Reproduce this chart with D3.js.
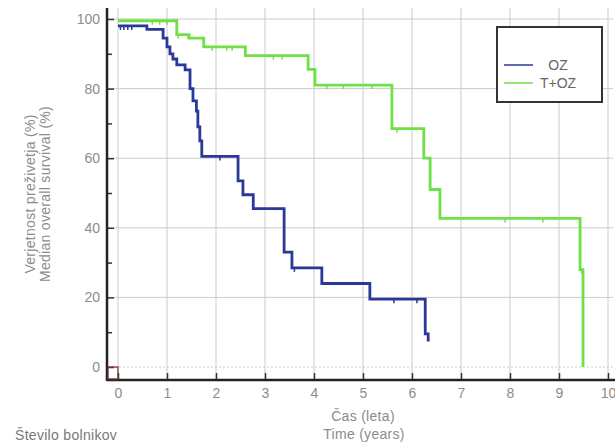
<!DOCTYPE html>
<html>
<head>
<meta charset="utf-8">
<script src="https://cdn.jsdelivr.net/npm/d3@7"></script>
<style>
  body { margin: 0; background: #fff; }
  text { font-family: "Liberation Sans", Arial, sans-serif; }
</style>
</head>
<body>
<div id="chart"></div>
<script>
// Kaplan-Meier steps (time in years, survival in %)
const ozTime = [0, 0.59, 0.92, 1.0, 1.06, 1.12, 1.2, 1.37, 1.47, 1.53, 1.6, 1.63, 1.67, 1.71, 2.45, 2.55, 2.76, 3.39, 3.55, 4.16, 5.14, 6.27, 6.33];
const ozSurv = [98, 97, 94.5, 92, 90, 88.5, 86.8, 85.4, 80, 76.5, 73.5, 69, 65, 60.5, 53.5, 49.5, 45.5, 33, 28.5, 24, 19.5, 9.5, 7.7];
const ozEnd = 6.36;
const ozCensor = [0.05, 0.12, 0.2, 0.28, 2.08, 3.6, 5.63, 6.1];

const tozTime = [0, 1.2, 1.45, 1.75, 2.6, 3.88, 4.02, 5.59, 6.24, 6.37, 6.57, 9.43, 9.49];
const tozSurv = [99.5, 95.5, 94.5, 92, 89.5, 85.5, 81, 68.5, 60, 51, 42.7, 28, 0];
const tozEnd = 9.49;
const tozCensor = [0.7, 0.85, 1.0, 1.23, 1.43, 1.92, 2.22, 2.33, 3.17, 3.35, 4.26, 4.6, 5.18, 5.69, 7.9, 8.67, 9.46];

const xTicks = [0, 1, 2, 3, 4, 5, 6, 7, 8, 9, 10];
const yTicks = [0, 20, 40, 60, 80, 100];
const yMinor = [10, 30, 50, 70, 90];
const seriesNames = ["OZ", "T+OZ"];
const seriesColors = ["#2a3899", "#6fe046"];

const W = 615, H = 444;
const plotLeft = 107, plotBottom = 380, plotTop = 8, plotRight = 613;

const svg = d3.select("#chart").append("svg")
  .attr("width", W).attr("height", H);

const x = d3.scaleLinear().domain([0, 10]).range([118, 608]);
const y = d3.scaleLinear().domain([0, 100]).range([367, 19]);

// grid
svg.append("g").selectAll("line").data(xTicks).join("line")
  .attr("x1", d => x(d)).attr("x2", d => x(d))
  .attr("y1", plotTop).attr("y2", plotBottom)
  .attr("stroke", "#cbcbcb").attr("stroke-width", 1);
svg.append("g").selectAll("line").data(yTicks).join("line")
  .attr("x1", plotLeft).attr("x2", plotRight)
  .attr("y1", d => y(d)).attr("y2", d => y(d))
  .attr("stroke", "#cbcbcb").attr("stroke-width", 1)
  .attr("stroke-dasharray", d => d === 0 ? "2,2" : null);

// axes with inward ticks
const gx = svg.append("g").attr("transform", "translate(0," + plotBottom + ")")
  .call(d3.axisBottom(x).tickValues(xTicks).tickSize(-7).tickPadding(8));
const gy = svg.append("g").attr("transform", "translate(" + plotLeft + ",0)")
  .call(d3.axisLeft(y).tickValues(yTicks).tickSize(-7).tickPadding(7));
svg.append("g").attr("transform", "translate(" + plotLeft + ",0)")
  .call(d3.axisLeft(y).tickValues(yMinor).tickSize(-5).tickFormat(""))
  .call(g => g.select(".domain").remove());
[gx, gy].forEach(g => {
  g.select(".domain").remove();
  g.selectAll(".tick text").attr("fill", "#8c8c8c").style("font-size", "14px");
});
svg.selectAll(".tick line").attr("stroke", "#333").attr("stroke-width", 1.5);

svg.append("line").attr("x1", plotLeft).attr("x2", plotLeft).attr("y1", plotTop).attr("y2", plotBottom + 1)
  .attr("stroke", "#222").attr("stroke-width", 2.5);
svg.append("line").attr("x1", plotLeft).attr("x2", W).attr("y1", plotBottom).attr("y2", plotBottom)
  .attr("stroke", "#222").attr("stroke-width", 2.5);

// little marker at the origin
svg.append("rect").attr("x", plotLeft + 1).attr("y", y(0)).attr("width", x(0) - plotLeft - 1).attr("height", plotBottom - y(0) - 1)
  .attr("fill", "none").attr("stroke", "#7a3030").attr("stroke-width", 1.2);

// survival curves
function stepPoints(ts, vs, end) {
  const pts = ts.map((t, i) => [t, vs[i]]);
  pts.push([end, vs[vs.length - 1]]);
  return pts;
}
const line = d3.line().x(d => x(d[0])).y(d => y(d[1])).curve(d3.curveStepAfter);

function levelAt(ts, vs, t) {
  let v = vs[0];
  for (let i = 0; i < ts.length; i++) if (ts[i] <= t) v = vs[i];
  return v;
}

const series = [
  { t: ozTime, v: ozSurv, end: ozEnd, c: ozCensor },
  { t: tozTime, v: tozSurv, end: tozEnd, c: tozCensor }
];
// draw green first so blue stays on top like the reference
[1, 0].forEach(i => {
  const s = series[i];
  svg.append("path").datum(stepPoints(s.t, s.v, s.end))
    .attr("d", line).attr("fill", "none")
    .attr("stroke", seriesColors[i]).attr("stroke-width", 2.8);
  svg.append("g").selectAll("line").data(s.c).join("line")
    .attr("x1", d => x(d)).attr("x2", d => x(d))
    .attr("y1", d => y(levelAt(s.t, s.v, d)))
    .attr("y2", d => y(levelAt(s.t, s.v, d)) + 4)
    .attr("stroke", seriesColors[i]).attr("stroke-width", 1.5);
});

// legend
const lg = svg.append("g");
lg.append("rect").attr("x", 497).attr("y", 27).attr("width", 105).attr("height", 75)
  .attr("fill", "#fff").attr("stroke", "#333").attr("stroke-width", 2);
seriesNames.forEach((n, i) => {
  const ly = 65 + i * 18;
  lg.append("line").attr("x1", 504).attr("x2", 533).attr("y1", ly).attr("y2", ly)
    .attr("stroke", seriesColors[i]).attr("stroke-width", 1.5);
  lg.append("text").attr("x", 558).attr("y", ly + 5).attr("text-anchor", "middle")
    .attr("fill", "#666").style("font-size", "14px").text(n);
});

// titles
const titleColor = "#8c8c8c";
const titleStyle = t => t.attr("fill", titleColor).style("font-size", "14px").style("letter-spacing", "0.3px");
svg.append("text").attr("transform", "translate(35,194) rotate(-90)")
  .attr("text-anchor", "middle").call(titleStyle)
  .text("Verjetnost preživetja (%)");
svg.append("text").attr("transform", "translate(50,194) rotate(-90)")
  .attr("text-anchor", "middle").call(titleStyle)
  .text("Median overall survival (%)");
svg.append("text").attr("x", 363).attr("y", 421).attr("text-anchor", "middle")
  .call(titleStyle).text("Čas (leta)");
svg.append("text").attr("x", 364).attr("y", 439).attr("text-anchor", "middle")
  .call(titleStyle).text("Time (years)");
svg.append("text").attr("x", 15).attr("y", 440)
  .attr("fill", "#777").style("font-size", "14px").style("letter-spacing", "0.3px")
  .text("Število bolnikov");
</script>
</body>
</html>
